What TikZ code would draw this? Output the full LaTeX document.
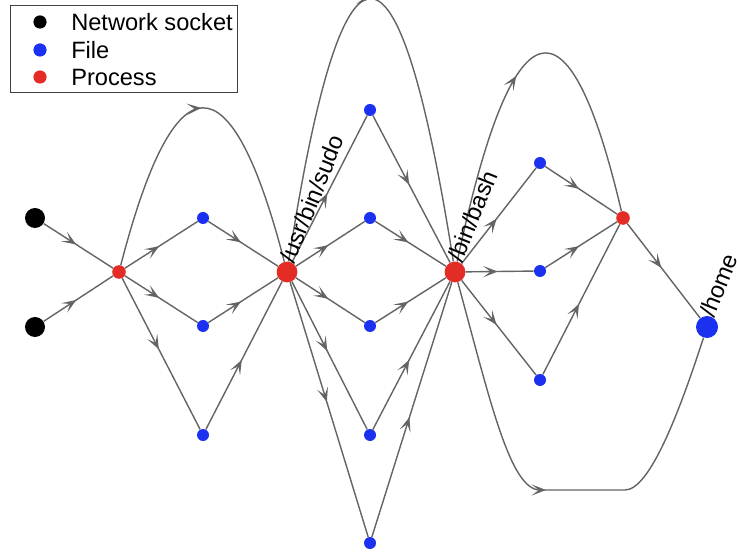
\documentclass[tikz,border=0pt]{standalone}
\usepackage{fontspec}
\setmainfont{Liberation Sans}
\usepackage{tikz}
\usetikzlibrary{arrows.meta,decorations.markings,backgrounds}
\usepackage{xcolor}
\definecolor{fileblue}{RGB}{28,48,240}
\definecolor{procred}{RGB}{228,44,38}
\definecolor{edgegray}{RGB}{100,100,100}

\begin{document}
\begin{tikzpicture}[x=0.025cm,y=-0.025cm,font=\fontsize{16.8}{20}\selectfont,line cap=round,
  dot/.style={circle,inner sep=0pt,minimum size=#1},
  sock/.style={dot=0.5cm,fill=black},
  file/.style={dot=0.3cm,fill=fileblue},
  proc/.style={dot=0.34cm,fill=procred},
  bigproc/.style={dot=0.52cm,fill=procred},
  bigfile/.style={dot=0.55cm,fill=fileblue},
  flow/.style={draw,color=edgegray,line width=1pt,postaction={decorate},
    decoration={markings,mark=at position #1 with {\arrow{Stealth[length=3.6mm,width=2.8mm,inset=1.8mm]}}}},
  flow/.default=0.47,
  pathlabel/.style={anchor=base west,rotate=68,inner sep=0pt}]
\useasboundingbox (0,0) rectangle (737,557);
% legend
\node[draw=black!75,line width=0.6pt,inner sep=0pt,minimum width=5.675cm,minimum height=2.175cm] (legend) at (123.5,48.5) {};
\node[dot=0.33cm,fill=black] (keysock) at (40,22) {};
\node[anchor=west,inner sep=0pt] (keysocktext) at (71,22) {Network socket};
\node[dot=0.33cm,fill=fileblue] (keyfile) at (40,50) {};
\node[anchor=west,inner sep=0pt] (keyfiletext) at (71,50) {File};
\node[dot=0.33cm,fill=procred] (keyproc) at (40,77) {};
\node[anchor=west,inner sep=0pt] (keyproctext) at (71,77) {Process};
% graph nodes
\node[sock] (sock1) at (35,218) {};
\node[sock] (sock2) at (35,327) {};
\node[proc] (proc1) at (119,272) {};
\node[file] (fa) at (203,218) {};
\node[file] (fb) at (203,326) {};
\node[file] (fc) at (203,435) {};
\node[bigproc] (sudo) at (287,272) {};
\node[file] (fd) at (370,110) {};
\node[file] (fe) at (370,218) {};
\node[file] (ff) at (370,326) {};
\node[file] (fg) at (370,435) {};
\node[file] (fh) at (370,543) {};
\node[bigproc] (bash) at (455,272) {};
\node[file] (fi) at (540,163) {};
\node[file] (fj) at (540,271) {};
\node[file] (fk) at (540,380) {};
\node[proc] (proc3) at (623,218) {};
\node[bigfile] (home) at (707,327) {};
% labels
\node[pathlabel] (sudolabel) at (294,265) {/usr/bin/sudo};
\node[pathlabel] (bashlabel) at (462,264) {/bin/bash};
\node[pathlabel] (homelabel) at (714,319) {/home};
% edges
\begin{scope}[on background layer]
\draw[flow] (sock1) -- (proc1);
\draw[flow] (sock2) -- (proc1);
\draw[flow] (proc1) -- (fa);
\draw[flow] (proc1) -- (fb);
\draw[flow] (proc1) -- (fc);
\draw[flow] (fa) -- (sudo);
\draw[flow] (fb) -- (sudo);
\draw[flow] (fc) -- (sudo);
\draw[flow=0.5] (proc1) .. controls (175,56) and (231,56) .. (sudo);
\draw[flow] (sudo) -- (fd);
\draw[flow] (sudo) -- (fe);
\draw[flow] (sudo) -- (ff);
\draw[flow] (sudo) -- (fg);
\draw[flow] (sudo) -- (fh);
\draw[flow] (fd) -- (bash);
\draw[flow] (fe) -- (bash);
\draw[flow] (ff) -- (bash);
\draw[flow] (fg) -- (bash);
\draw[flow] (fh) -- (bash);
\draw[flow=0.5] (sudo) .. controls (343,-89) and (398,-89) .. (bash);
\draw[flow] (bash) -- (fi);
\draw[flow] (bash) -- (fj);
\draw[flow] (bash) -- (fk);
\draw[flow] (fi) -- (proc3);
\draw[flow] (fj) -- (proc3);
\draw[flow] (fk) -- (proc3);
\draw[flow=0.47] (bash) .. controls (512,2) and (568,-16) .. (proc3);
\draw[flow] (proc3) -- (home);
\draw[flow=0.48] (bash) .. controls (490,400) and (510,490) .. (540,490) -- (625,490) .. controls (650,490) and (680,410) .. (home);
\end{scope}
\end{tikzpicture}
\end{document}
